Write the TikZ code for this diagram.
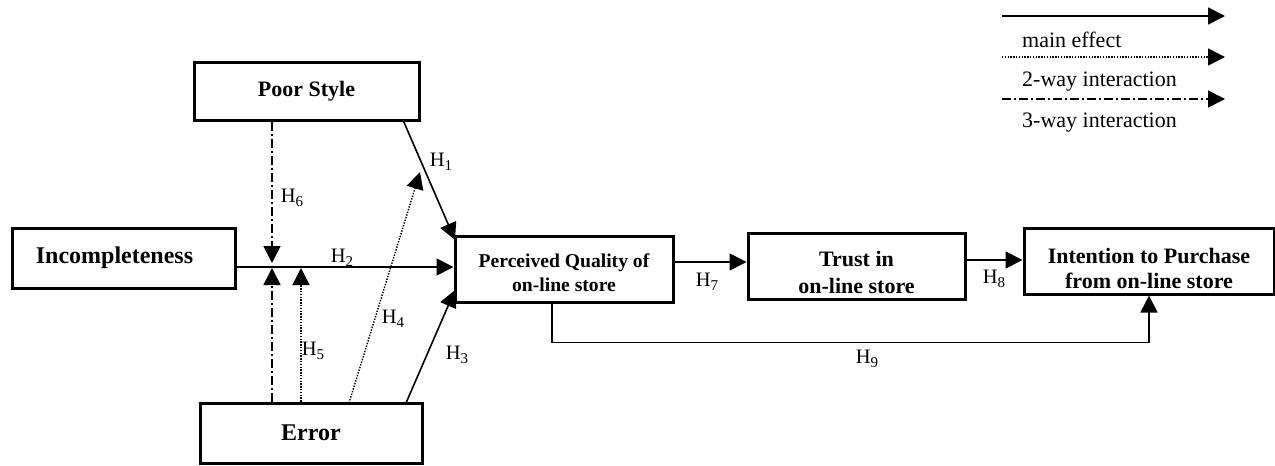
\documentclass[tikz,border=0pt]{standalone}
\usepackage{fontspec}
\setmainfont{Liberation Serif}
\usetikzlibrary{arrows.meta,positioning}
\newcommand\hyp[1]{H\raisebox{-4pt}{\fontsize{15}{15}\selectfont #1}}
\tikzset{
  box/.style={draw, line width=3pt, inner sep=0pt, align=center, font=\bfseries},
  conn/.style={line width=1.6pt, -{Triangle[length=17pt,width=17pt]}},
  mainfx/.style={conn},
  twoway/.style={conn, line width=1.4pt, dash pattern=on 1.4pt off 1.4pt},
  threeway/.style={conn, dash pattern=on 9pt off 3pt on 2pt off 3pt},
  hlab/.style={font=\fontsize{20.5}{22}\selectfont, inner sep=1pt},
  legtext/.style={font=\fontsize{22}{24}\selectfont, anchor=west, inner sep=0pt}
}
\begin{document}
\begin{tikzpicture}[x=1pt,y=-1pt]
\useasboundingbox (0,0) rectangle (1275,466);
% boxes
\node[box, minimum width=225pt, minimum height=58pt, font=\bfseries\fontsize{22}{24}\selectfont] (ps) at (306.5,91) {Poor Style};
\node[box, minimum width=223pt, minimum height=60pt, font=\bfseries\fontsize{24}{26}\selectfont] (inc) at (123.5,258) {Incompleteness\hspace*{18pt}};
\node[box, minimum width=222pt, minimum height=60pt, font=\bfseries\fontsize{24}{26}\selectfont] (err) at (311,433) {Error};
\node[box, minimum width=218pt, minimum height=66pt, font=\bfseries\fontsize{19.6}{24}\selectfont] (pq) at (564,269) {\rule{0pt}{22pt}Perceived Quality of\\on-line store};
\node[box, minimum width=217pt, minimum height=66pt, font=\bfseries\fontsize{22}{27}\selectfont] (tr) at (856.5,266) {\rule{0pt}{28pt}Trust in\\on-line store};
\node[box, minimum width=250pt, minimum height=66pt, font=\bfseries\fontsize{22}{25}\selectfont] (it) at (1149,261) {\rule{0pt}{30pt}Intention to Purchase\\from on-line store};
% helper coordinates
\coordinate (h6end) at (272,263);
\coordinate (h6up) at (272,268);
\coordinate (h5up) at (301,268);
\coordinate (h4s) at (349,403);
\coordinate (h4e) at (420,172);
\coordinate (h1s) at (403,120);
\coordinate (h1e) at (455,240);
\coordinate (h3s) at (406,403);
\coordinate (h3e) at (455,290);
% connectors
\draw[mainfx] (h1s) -- (h1e);
\draw[mainfx] (h3s) -- (h3e);
\draw[mainfx] ([yshift=-9pt]inc.east) -- ([yshift=-9pt]inc.east -| pq.west);
\draw[threeway] (ps.south -| h6end) -- (h6end);
\draw[threeway] (err.north -| h6up) -- (h6up);
\draw[twoway] (err.north -| h5up) -- (h5up);
\draw[twoway] (h4s) -- (h4e);
\draw[mainfx] ([yshift=7pt]pq.east) -- ([yshift=7pt]pq.east -| tr.west);
\draw[mainfx] ([yshift=6pt]tr.east) -- ([yshift=6pt]tr.east -| it.west);
\draw[mainfx] ([xshift=-12pt]pq.south) -- ++(0,39) -| (it.south);
% labels
\node[hlab] (l1) at (441,162) {\hyp{1}};
\node[hlab] (l2) at (342,258) {\hyp{2}};
\node[hlab] (l3) at (457,355) {\hyp{3}};
\node[hlab] (l4) at (393,319) {\hyp{4}};
\node[hlab] (l5) at (313,351) {\hyp{5}};
\node[hlab] (l6) at (292,198) {\hyp{6}};
\node[hlab] (l7) at (707,282) {\hyp{7}};
\node[hlab] (l8) at (994,279) {\hyp{8}};
\node[hlab] (l9) at (867,359) {\hyp{9}};
% legend
\coordinate (la1) at (1002,16);
\coordinate (lb1) at (1225,16);
\coordinate (la2) at (1002,57);
\coordinate (lb2) at (1225,57);
\coordinate (la3) at (1002,99);
\coordinate (lb3) at (1225,99);
\draw[mainfx] (la1) -- (lb1);
\draw[twoway] (la2) -- (lb2);
\draw[threeway] (la3) -- (lb3);
\node[legtext] (t1) at (1022,40) {main effect};
\node[legtext] (t2) at (1022,82) {2-way interaction};
\node[legtext] (t3) at (1022,123) {3-way interaction};
\end{tikzpicture}
\end{document}
